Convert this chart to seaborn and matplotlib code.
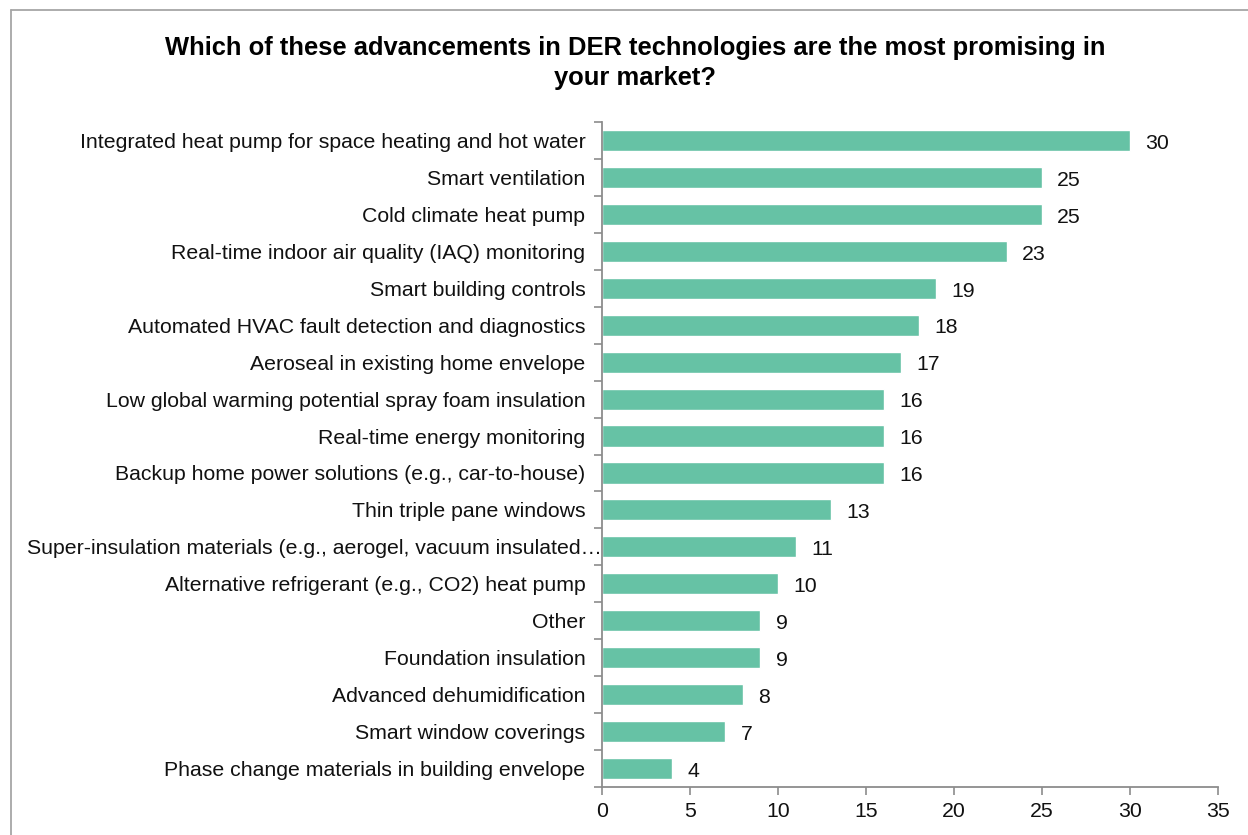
import matplotlib
matplotlib.use("Agg")
import matplotlib.pyplot as plt
import matplotlib.transforms as mtransforms
from matplotlib.lines import Line2D
import numpy as np
import pandas as pd
import seaborn as sns

categories = [
    "Integrated heat pump for space heating and hot water",
    "Smart ventilation",
    "Cold climate heat pump",
    "Real-time indoor air quality (IAQ) monitoring",
    "Smart building controls",
    "Automated HVAC fault detection and diagnostics",
    "Aeroseal in existing home envelope",
    "Low global warming potential spray foam insulation",
    "Real-time energy monitoring",
    "Backup home power solutions (e.g., car-to-house)",
    "Thin triple pane windows",
    "Super-insulation materials (e.g., aerogel, vacuum insulated\u2026",
    "Alternative refrigerant (e.g., CO2) heat pump",
    "Other",
    "Foundation insulation",
    "Advanced dehumidification",
    "Smart window coverings",
    "Phase change materials in building envelope",
]
counts = [30, 25, 25, 23, 19, 18, 17, 16, 16, 16, 13, 11, 10, 9, 9, 8, 7, 4]
x_ticks = [0, 5, 10, 15, 20, 25, 30, 35]

title = "Which of these advancements in DER technologies are the most promising in\nyour market?"

sns.set_theme(style="white")
plt.rcParams["font.family"] = ["Liberation Sans", "DejaVu Sans"]

FS = 15.3

df = pd.DataFrame({"tech": categories, "count": counts})

W, H = 1248, 835
fig = plt.figure(figsize=(W / 100, H / 100), dpi=100)
ax = fig.add_axes([602 / W, 48 / H, (1218 - 602) / W, (787 - 122) / H])

sns.barplot(data=df, y="tech", x="count", orient="h", color="#66C2A5",
            saturation=1, width=0.57, ax=ax)

ax.set_xlim(0, 35)
ax.set_ylim(len(categories) - 0.5, -0.5)
ax.set_xticks(x_ticks)
ax.set_xticklabels([str(t) for t in x_ticks], fontsize=FS, color="#111111")
ax.set_xlabel("")
ax.set_ylabel("")

# category labels without major tick marks; separators as minor ticks
ax.tick_params(axis="y", which="major", length=0, pad=12, labelsize=FS,
               labelcolor="#111111")
ax.set_yticks(np.arange(-0.5, len(categories)), minor=True)
ax.tick_params(axis="y", which="minor", length=6, width=1.2, color="#8c8c8c",
               direction="out", left=True)
ax.tick_params(axis="x", which="major", length=6, width=1.2, color="#8c8c8c",
               direction="out", bottom=True, pad=5)

for side in ("top", "right"):
    ax.spines[side].set_visible(False)
for side in ("left", "bottom"):
    ax.spines[side].set_color("#8c8c8c")
    ax.spines[side].set_linewidth(1.3)

# value labels at bar ends
value_texts = ax.bar_label(ax.containers[0], labels=[str(v) for v in counts],
                           padding=11, fontsize=FS, color="#111111")
for t in value_texts:
    t.xyann = (11, -2)

# the truncated label overflows toward the axis
for lbl in ax.get_yticklabels():
    if lbl.get_text().startswith("Super-insulation"):
        lbl.set_transform(lbl.get_transform() +
                          mtransforms.ScaledTranslation(0.17, 0, fig.dpi_scale_trans))

fig.text(635 / W, 1 - 36 / H, title, ha="center", va="top", fontsize=18.4,
         fontweight="bold", color="#000000", linespacing=1.33)

# chart frame
fig.add_artist(Line2D([11 / W, 11 / W], [0, 1 - 10 / H], transform=fig.transFigure,
                      color="#a6a6a6", lw=1.3))
fig.add_artist(Line2D([11 / W, 1], [1 - 10 / H, 1 - 10 / H], transform=fig.transFigure,
                      color="#a6a6a6", lw=1.3))

fig.savefig("out.png", dpi=100, facecolor="white")
